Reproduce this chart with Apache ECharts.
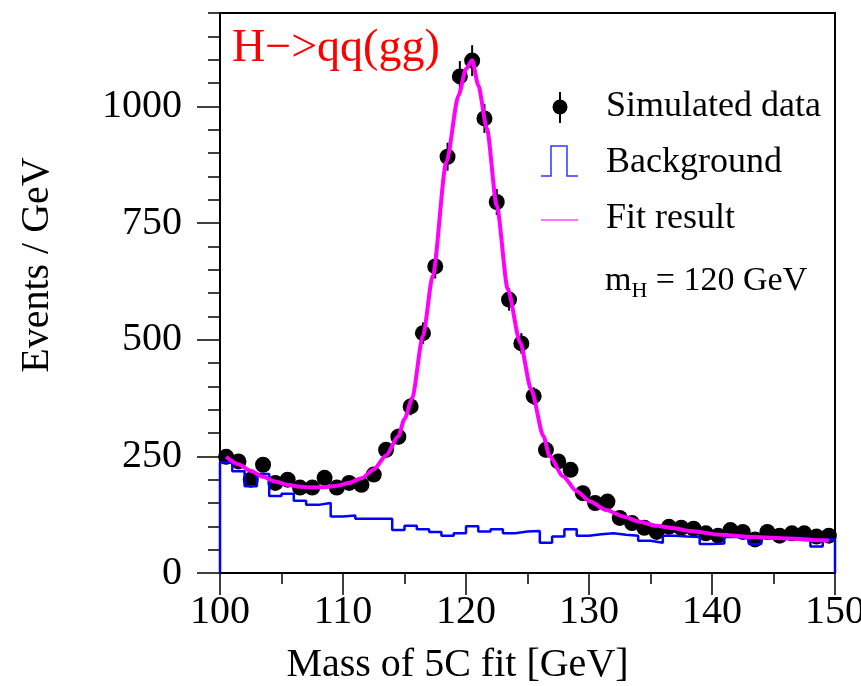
<!DOCTYPE html>
<html><head><meta charset="utf-8">
<script src="https://cdn.jsdelivr.net/npm/echarts@6/dist/echarts.min.js"></script>
<style>html,body{margin:0;padding:0;background:#fff}#c{width:861px;height:686px}</style>
</head><body><div id="c"></div>
<script>
// ---- data ----
const binEdges = [100,101,102,103,104,105,106,107,108,109,110,111,112,113,114,115,116,117,118,119,120,121,122,123,124,125,126,127,128,129,130,131,132,133,134,135,136,137,138,139,140,141,142,143,144,145,146,147,148,149,150];
const xTickLabels = ['100','110','120','130','140','150'];
const yTickLabels = ['0','250','500','750','1000'];
const dataCounts = [249,239,200,232,193,200,183,183,204,183,193,189,211,264,292,357,514,657,892,1064,1098,974,795,586,492,379,264,239,221,171,150,153,118,107,97,88,99,97,95,85,80,92,88,72,88,80,85,85,78,80];
const dataErrors = [16,15,14,15,14,14,14,14,14,14,14,14,15,16,17,19,23,26,30,33,33,31,28,24,22,19,16,15,15,13,12,12,11,10,10,9,10,10,10,9,9,10,9,8,9,9,9,9,9,9];
const bgCounts = [237,218,186,212,165,170,155,146,150,121,123,116,116,116,92,101,94,88,80,85,100,89,94,85,89,90,65,78,94,80,83,85,82,80,69,65,80,78,77,62,63,77,74,62,75,75,75,75,57,72];
const fitMass = [100.5,101.5,102.5,103.5,104.5,105.5,106.5,107.5,108.5,109.5,110.5,111.5,112.5,113.5,114.5,115.0,115.6,116.5,117.3,118.4,119.4,120.0,120.5,121.0,121.7,122.5,123.4,124.4,125.3,126.3,126.8,127.9,129.0,130.1,131.4,132.8,134.1,135.5,136.9,138.2,140.7,143.4,146.1,149.0,149.5];
const fitValues = [249,233,219,206,196,189,185,183,184,187,193,203,222,252,293,330,372,508,637,880,1024,1080,1099,1045,952,787,608,494,393,293,250,207,175,153,135,121,110,101,96,90,82,77,74,70,69];

// ---- build series data ----
const centers = dataCounts.map((_, i) => (binEdges[i] + binEdges[i + 1]) / 2);
const pts = dataCounts.map((v, i) => [centers[i], v]);
const errs = dataCounts.map((v, i) => [centers[i], v, dataErrors[i]]);
const bgLine = [[binEdges[0], 0]];
bgCounts.forEach((v, i) => bgLine.push([binEdges[i], v]));
bgLine.push([binEdges[binEdges.length - 1], bgCounts[bgCounts.length - 1]]);
bgLine.push([binEdges[binEdges.length - 1], 0]);
const fitLine = fitMass.map((m, i) => [m, fitValues[i]]);

const F = 'Liberation Serif';
const chart = echarts.init(document.getElementById('c'), null, {renderer: 'canvas'});
chart.setOption({
  animation: false,
  backgroundColor: '#fff',
  grid: {left: 220, right: 26, top: 13, bottom: 113, outerBoundsMode: 'none', containLabel: false,
    show: true, borderColor: '#000', borderWidth: 2, backgroundColor: 'transparent'},
  xAxis: [{
    type: 'value', min: 100, max: 150, interval: 10,
    axisLine: {lineStyle: {color: '#000', width: 2}},
    axisTick: {length: 22, lineStyle: {color: '#000', width: 1.5}},
    minorTick: {show: true, splitNumber: 2, length: 11, lineStyle: {color: '#000', width: 1.5}},
    splitLine: {show: false},
    axisLabel: {margin: 19, fontFamily: F, fontSize: 40, color: '#000', hideOverlap: false,
      showMinLabel: true, showMaxLabel: true,
      formatter: v => xTickLabels[Math.round((v - 100) / 10)]},
    name: 'Mass of 5C fit [GeV]', nameLocation: 'middle', nameGap: 72,
    nameTextStyle: {fontFamily: F, fontSize: 40, color: '#000', padding: [0, 140, 0, 0]}
  }],
  yAxis: [{
    type: 'value', min: 0, max: 1200, interval: 50,
    axisLine: {lineStyle: {color: '#000', width: 2}},
    axisTick: {length: 23, customValues: [0, 250, 500, 750, 1000], lineStyle: {color: '#000', width: 1.5}},
    splitLine: {show: false},
    axisLabel: {margin: 38, fontFamily: F, fontSize: 40, color: '#000', customValues: [0, 250, 500, 750, 1000],
      formatter: v => yTickLabels[Math.round(v / 250)]}
  }, {
    type: 'value', min: 0, max: 1200, interval: 50, position: 'left',
    axisLine: {show: false},
    axisTick: {show: true, length: 12, lineStyle: {color: '#000', width: 1.5}},
    axisLabel: {show: false}, splitLine: {show: false}
  }],
  series: [
    {type: 'scatter', name: 'Simulated data', data: pts, symbol: 'circle', symbolSize: 16,
      itemStyle: {color: '#000', opacity: 1}, z: 2},
    {type: 'custom', name: 'errors', data: errs, z: 2, encode: {x: 0, y: 1},
      renderItem: (params, api) => {
        const x = api.value(0), y = api.value(1), e = api.value(2);
        const a = api.coord([x, y - e]), b = api.coord([x, y + e]);
        return {type: 'line', shape: {x1: a[0], y1: a[1], x2: b[0], y2: b[1]}, style: {stroke: '#000', lineWidth: 2}};
      }},
    {type: 'line', name: 'Background', data: bgLine, step: 'end', showSymbol: false, symbol: 'none',
      lineStyle: {color: '#0000ff', width: 2.5}, z: 3},
    {type: 'line', name: 'Fit result', data: fitLine, smooth: 0.25, smoothMonotone: 'x', showSymbol: false, symbol: 'none',
      lineStyle: {color: '#ff00ff', width: 4}, z: 4}
  ],
  graphic: [
    {type: 'text', x: 232, y: 49, style: {text: 'H\u2212>qq(gg)', font: '46px "Liberation Serif"', fill: '#ff0000', verticalAlign: 'middle', align: 'left'}},
    {type: 'text', x: 37, y: 265, rotation: Math.PI / 2, style: {text: 'Events / GeV', font: '40px "Liberation Serif"', fill: '#000', align: 'center', verticalAlign: 'middle'}},
    // legend
    {type: 'line', shape: {x1: 560, y1: 92, x2: 560, y2: 123}, style: {stroke: '#000', lineWidth: 2}},
    {type: 'circle', shape: {cx: 560, cy: 107, r: 7.5}, style: {fill: '#000'}},
    {type: 'text', x: 606, y: 107, style: {text: 'Simulated data', font: '36px "Liberation Serif"', fill: '#000', verticalAlign: 'middle'}},
    {type: 'polyline', shape: {points: [[541, 176], [551, 176], [551, 146], [567, 146], [567, 176], [578, 176]]}, style: {stroke: '#3333ff', lineWidth: 1.5, fill: null}},
    {type: 'text', x: 606, y: 163, style: {text: 'Background', font: '36px "Liberation Serif"', fill: '#000', verticalAlign: 'middle'}},
    {type: 'line', shape: {x1: 541, y1: 220, x2: 578, y2: 220}, style: {stroke: '#ff44ff', lineWidth: 1.5}},
    {type: 'text', x: 606, y: 219, style: {text: 'Fit result', font: '36px "Liberation Serif"', fill: '#000', verticalAlign: 'middle'}},
    {type: 'text', x: 605, y: 281, style: {
      text: '{m|m}{s|H}{n| = 120 GeV}', verticalAlign: 'middle',
      rich: {m: {fontFamily: F, fontSize: 34, fill: '#000'},
             s: {fontFamily: F, fontSize: 22, fill: '#000', padding: [20, 0, 0, 0]},
             n: {fontFamily: F, fontSize: 34, fill: '#000'}}}}
  ]
});
</script></body></html>
